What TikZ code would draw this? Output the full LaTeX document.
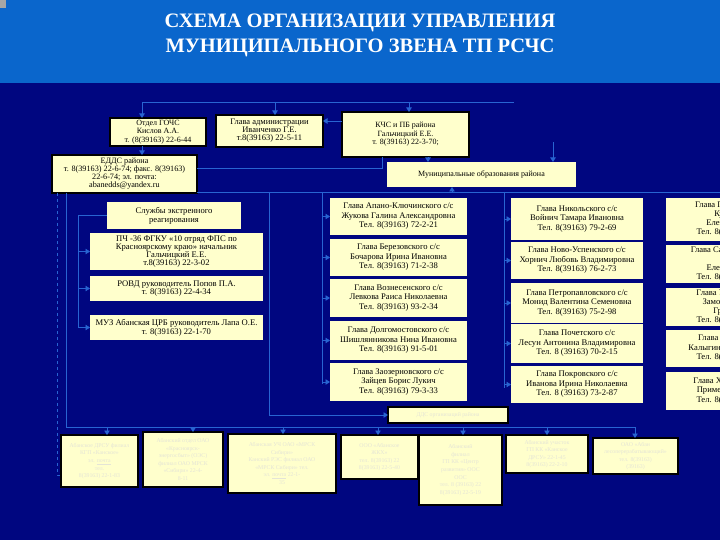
\documentclass[tikz,border=0pt]{standalone}
\usepackage{fontspec}
\setmainfont{Liberation Serif}
\usetikzlibrary{arrows.meta}
\definecolor{band}{RGB}{10,102,204}
\definecolor{navy}{RGB}{0,6,128}
\definecolor{cream}{RGB}{255,255,204}
\definecolor{conn}{RGB}{40,100,210}
\definecolor{ghost}{RGB}{228,228,214}
\tikzset{
  box/.style={fill=cream, inner sep=1pt, outer sep=0pt, anchor=north west, align=center,
    font=\fontsize{8}{8.6}\selectfont, text=black},
  sbox/.style={box, font=\fontsize{8.6}{9.5}\selectfont},
  vbox/.style={box, font=\fontsize{8.6}{8.8}\selectfont},
  bbox/.style={box, draw=black, line width=2.6pt},
  gbox/.style={bbox, text=ghost, font=\fontsize{5.8}{7.6}\selectfont},
  conline/.style={draw=conn, line width=0.8pt},
  arr/.style={conline, -{Triangle[width=5.5pt,length=4.5pt]}},
}
\begin{document}
\begin{tikzpicture}[x=1pt,y=-1pt]
\useasboundingbox (0,0) rectangle (720,540);
\clip (0,0) rectangle (720,540);
\fill[navy] (0,0) rectangle (720,540);
\fill[band] (0,0) rectangle (720,83);
\fill[gray!70] (0,0) rectangle (6,8);
\node[text=white, font=\bfseries\fontsize{20.5}{25}\selectfont, align=center] (title) at (360,35)
  {СХЕМА ОРГАНИЗАЦИИ УПРАВЛЕНИЯ\\МУНИЦИПАЛЬНОГО ЗВЕНА ТП РСЧС};

% top row
\node[bbox, minimum width=96pt, minimum height=28pt] (gochs) at (110,118)
  {Отдел  ГОЧС\\Кислов А.А.\\т. (8(39163) 22-6-44};
\node[bbox, minimum width=107pt, minimum height=32pt, font=\fontsize{8.5}{8}\selectfont] (glava) at (216,115)
  {Глава администрации\\Иванченко Г.Е.\\т.8(39163)  22-5-11};
\node[bbox, minimum width=127pt, minimum height=45pt] (kchs) at (342,112)
  {КЧС и ПБ района\\Гальчицкий Е.Е.\\т. 8(39163) 22-3-70;};
\node[bbox, minimum width=145pt, minimum height=38pt, font=\fontsize{8.2}{8}\selectfont] (edds) at (52,155)
  {ЕДДС района\\т. 8(39163)  22-6-74; факс. 8(39163)\\22-6-74; эл. почта:\\abanedds@yandex.ru};
\node[box, minimum width=189pt, minimum height=25pt] (mo) at (387,162)
  {Муниципальные образования района};

% services
\node[vbox, minimum width=134pt, minimum height=27pt] (sl) at (107,202)
  {Службы экстренного\\реагирования};
\node[vbox, minimum width=173pt, minimum height=37pt, font=\fontsize{8.6}{8.2}\selectfont] (pch) at (90,233)
  {ПЧ -36 ФГКУ «10 отряд ФПС по\\Красноярскому краю» начальник\\Гальчицкий  Е.Е.\\т.8(39163) 22-3-02};
\node[vbox, minimum width=173pt, minimum height=25pt] (rovd) at (90,276)
  {РОВД  руководитель Попов П.А.\\т. 8(39163) 22-4-34};
\node[vbox, minimum width=173pt, minimum height=25pt] (muz) at (90,315)
  {МУЗ Абанская  ЦРБ руководитель Лапа О.Е.\\т. 8(39163) 22-1-70};

% column 1
\node[sbox, minimum width=137pt, minimum height=37pt] (c11) at (330,198)
  {Глава Апано-Ключинского с/с\\Жукова Галина Александровна\\Тел. 8(39163) 72-2-21};
\node[sbox, minimum width=137pt, minimum height=37pt] (c12) at (330,239)
  {Глава  Березовского с/с\\Бочарова Ирина Ивановна\\Тел. 8(39163) 71-2-38};
\node[sbox, minimum width=137pt, minimum height=38pt] (c13) at (330,279)
  {Глава Вознесенского с/с\\Левкова Раиса Николаевна\\Тел. 8(39163) 93-2-34};
\node[sbox, minimum width=137pt, minimum height=39pt] (c14) at (330,321)
  {Глава Долгомостовского с/с\\Шишлянникова Нина Ивановна\\Тел. 8(39163) 91-5-01};
\node[sbox, minimum width=137pt, minimum height=38pt] (c15) at (330,363)
  {Глава Заозерновского с/с\\Зайцев Борис Лукич\\Тел. 8(39163) 79-3-33};

% column 2
\node[sbox, minimum width=132pt, minimum height=42pt] (c21) at (511,198)
  {Глава Никольского с/с\\Войнич Тамара Ивановна\\Тел. 8(39163)  79-2-69};
\node[sbox, minimum width=132pt, minimum height=37pt] (c22) at (511,242)
  {Глава Ново-Успенского с/с\\Хорнич Любовь Владимировна\\Тел. 8(39163) 76-2-73};
\node[sbox, minimum width=132pt, minimum height=40pt] (c23) at (511,283)
  {Глава Петропавловского с/с\\Монид Валентина Семеновна\\Тел. 8(39163) 75-2-98};
\node[sbox, minimum width=132pt, minimum height=39pt] (c24) at (511,324)
  {Глава Почетского с/с\\Лесун Антонина Владимировна\\Тел. 8 (39163) 70-2-15};
\node[sbox, minimum width=132pt, minimum height=37pt] (c25) at (511,366)
  {Глава Покровского с/с\\Иванова Ирина Николаевна\\Тел. 8 (39163) 73-2-87};

% column 3 (cut by the edge, as in the reference)
\node[sbox, minimum width=140pt, minimum height=43pt, font=\fontsize{8.6}{9}\selectfont] (c31) at (666,198)
  {Глава Плахинского с/с\\Купрацевич\\Елена Ивановна\\Тел. 8(39163) 74-2-36};
\node[sbox, minimum width=140pt, minimum height=38pt, font=\fontsize{8.6}{9}\selectfont] (c32) at (666,245)
  {Глава Самойловского с/с\\Удодова\\Елена Петровна\\Тел. 8(39163) 77-2-45};
\node[sbox, minimum width=140pt, minimum height=38pt, font=\fontsize{8.6}{9}\selectfont] (c33) at (666,288)
  {Глава Устьянского с/с\\Замостина Галина\\Григорьевна\\Тел. 8(39163) 78-2-15};
\node[sbox, minimum width=140pt, minimum height=37pt] (c34) at (666,330)
  {Глава Туровского с/с\\Калыгина Нина Ивановна\\Тел. 8(39163) 75-4-21};
\node[sbox, minimum width=140pt, minimum height=38pt] (c35) at (666,372)
  {Глава Хандальского с/с\\Примеров Александр\\Тел. 8(39163) 92-2-31};

% bottom
\node[bbox, minimum width=120pt, minimum height=16pt, text=ghost, font=\fontsize{5.8}{7}\selectfont] (dds) at (388,407)
  {ДДС организаций района};
\node[gbox, minimum width=77pt, minimum height=52pt] (b1) at (61,435)
  {Абанское ДРСУ филиал\\КГП «Канское»\\эл. \underline{почта}\\тел.\\8(39163) 22-1-83};
\node[gbox, minimum width=80pt, minimum height=55pt] (b2) at (143,432)
  {Абанский отдел ОАО\\«Красноярск-\\энергосбыт» (ОЭС)\\филиал ОАО МРСК\\«Сибири» 22-4-\\8-11};
\node[gbox, minimum width=108pt, minimum height=59pt] (b3) at (228,434)
  {Абанская УЧ ОАО «МРСК\\Сибири»\\Канский РЭС филиал ОАО\\«МРСК Сибири» тел.\\эл. \underline{почта} 22-1-\\35};
\node[gbox, minimum width=77pt, minimum height=44pt] (b4) at (341,435)
  {ООО «Абанское\\ЖКХ»\\тел. 8(39163) 22\\8(39163) 22-5-40};
\node[gbox, minimum width=83pt, minimum height=70pt] (b5) at (419,435)
  {Абанский\\филиал\\ГП КК «Центр\\развития» ООС\\ООС\\тел. 8 (39163) 22\\8(39163) 22-5-19};
\node[gbox, minimum width=82pt, minimum height=38pt] (b6) at (506,435)
  {Абанский участок\\ГП КК «Канское\\ДРСУ» 22-1-45\\8(39163) 22-2-10};
\node[gbox, minimum width=85pt, minimum height=36pt] (b7) at (593,438)
  {ОАО «Абан\\лесоперерабатывающий»\\тел. 8(39163)\\(39163)};

% coordinates
\coordinate (t1) at (142,102);
\coordinate (t2) at (275,102);
\coordinate (t3) at (409,102);
\coordinate (t4) at (514,102);
\coordinate (y121) at (0,121);
\coordinate (x382) at (382,0);
\coordinate (x428) at (428,0);
\coordinate (fa) at (553,142);
\coordinate (busL) at (197,192);
\coordinate (busR) at (720,192);
\coordinate (fx) at (269,192);
\coordinate (c1x) at (322,192);
\coordinate (c1e) at (322,384);
\coordinate (c2x) at (504,192);
\coordinate (c2e) at (504,388);
\coordinate (mx) at (452,192);
\coordinate (sx) at (78,0);
\coordinate (se) at (78,328);
\coordinate (lv) at (66,193);
\coordinate (bl) at (636,427);
\coordinate (dv) at (57,193);
\coordinate (y475) at (0,475);

% connectors top
\draw[conline] (t1) -- (t4);
\draw[arr] (t1) -- (gochs.north -| t1);
\draw[arr] (t2) -- (glava.north -| t2);
\draw[arr] (t3) -- (kchs.north -| t3);
\draw[arr] (gochs.south -| t1) -- (edds.north -| t1);
\draw[arr] (kchs.west |- y121) -- (glava.east |- y121);
\draw[arr] (kchs.south -| x428) -- (mo.north -| x428);
\draw[arr] (fa) -- (mo.north -| fa);
\draw[conline] (kchs.south -| x382) |- (edds.east |- 0,168);

% bus
\draw[conline] (busL) -- (busR);
\draw[arr] (mx) -- (mo.south -| mx);
\draw[arr] (fx) |- (dds.west);
\draw[conline] (c1x) -- (c1e);
\draw[conline] (c2x) -- (c2e);
\foreach \n in {c11,c12,c13,c14,c15} \draw[arr] (\n.west -| c1x) -- (\n.west);
\foreach \n in {c21,c22,c23,c24,c25} \draw[arr] (\n.west -| c2x) -- (\n.west);

% services
\draw[conline] (sl.west -| sx) -- (sl.west);
\draw[conline] (sl.west -| sx) -- (se);
\foreach \n in {pch,rovd,muz} \draw[arr] (\n.west -| sx) -- (\n.west);

% bottom bus
\draw[conline] (lv) |- (bl);
\draw[conline, dashed] (dv) |- (b1.west |- y475);
\foreach \n/\x in {b1/107,b2/193,b3/283,b4/378,b5/463,b6/547,b7/635}
  \draw[arr] (\x,427) -- (\n.north -| \x,0);
\end{tikzpicture}
\end{document}
